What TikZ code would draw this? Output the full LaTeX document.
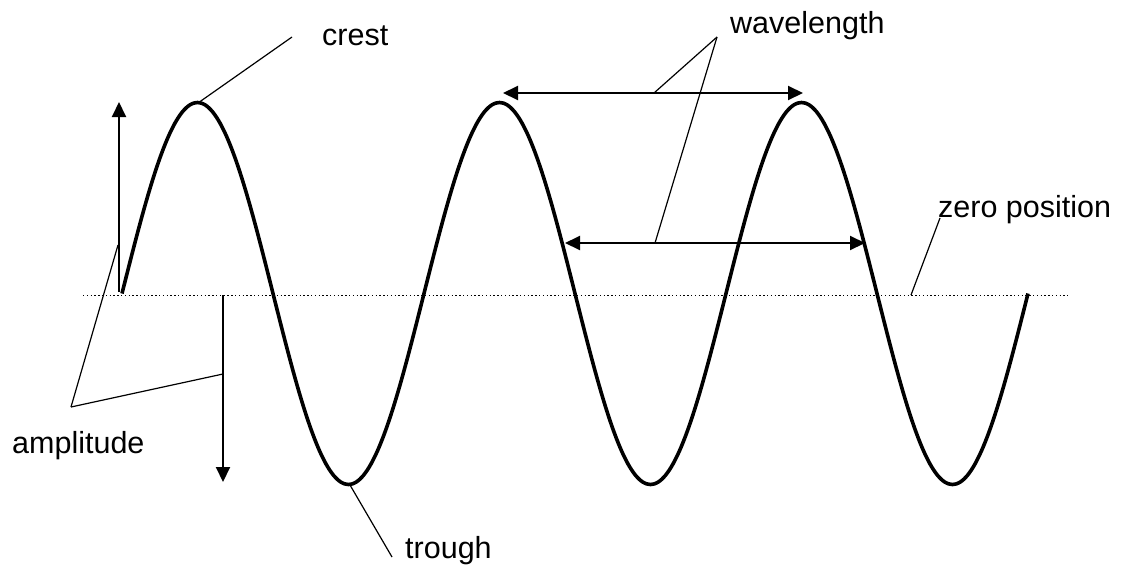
\documentclass[tikz,border=0pt]{standalone}
\usepackage{fontspec}
\setmainfont{Liberation Sans}
\usetikzlibrary{arrows.meta}
\tikzset{
  wave/.style={line width=3.6pt,line join=round},
  tip/.tip={Triangle[length=15pt,width=14pt]},
  span/.style={tip-tip,line width=2pt},
  ampl/.style={-tip,line width=2pt},
  leader/.style={line width=1.2pt},
  zeroline/.style={line width=1pt,dash pattern=on 1.4pt off 2.4pt},
  lbl/.style={font=\fontsize{30.5}{36}\selectfont,inner sep=0pt,anchor=base west},
}
\begin{document}
\begin{tikzpicture}[x=1pt,y=-1pt]
\useasboundingbox (0,0) rectangle (1121,565);
% zero position and the wave
\draw[zeroline] (83,295) -- (1068,295);
\draw[wave] plot[domain=0:1080,samples=241,smooth] ({122+0.838889*\x},{293.5-191*sin(\x)});
% points on the wave
\coordinate (crestpt) at (198,103);
\coordinate (troughpt) at (350,485);
\coordinate (zeropt) at (911,295);
% amplitude and wavelength arrows
\coordinate (upfrom) at (119,292);
\coordinate (upto) at (119,102);
\coordinate (downfrom) at (223,295);
\coordinate (downto) at (223,482);
\coordinate (wla) at (503,93);
\coordinate (wlb) at (803,93);
\coordinate (wlc) at (565,243);
\coordinate (wld) at (865,243);
\draw[ampl] (upfrom) -- (upto);
\draw[ampl] (downfrom) -- (downto);
\draw[span] (wla) -- (wlb);
\draw[span] (wlc) -- (wld);
% labels
\node[lbl] (crest) at (322,45) {crest};
\node[lbl] (wavelen) at (730,33) {wavelength};
\node[lbl] (zeropos) at (938,217) {zero position};
\node[lbl] (amp) at (12,453) {amplitude};
\node[lbl] (trough) at (405,558) {trough};
% leader lines
\coordinate (crestend) at (292,37);
\coordinate (wlend) at (717,37);
\coordinate (zeroend) at (940,218);
\coordinate (ampend) at (71,407);
\coordinate (troughend) at (392,557);
\coordinate (wltop) at (654,93);
\coordinate (wlbot) at (655,243);
\coordinate (ampup) at (118,245);
\coordinate (ampdown) at (223,374);
\draw[leader] (crestpt) -- (crestend);
\draw[leader] (troughpt) -- (troughend);
\draw[leader] (zeropt) -- (zeroend);
\foreach \p in {wltop,wlbot} \draw[leader] (wlend) -- (\p);
\foreach \p in {ampup,ampdown} \draw[leader] (ampend) -- (\p);
\end{tikzpicture}
\end{document}
